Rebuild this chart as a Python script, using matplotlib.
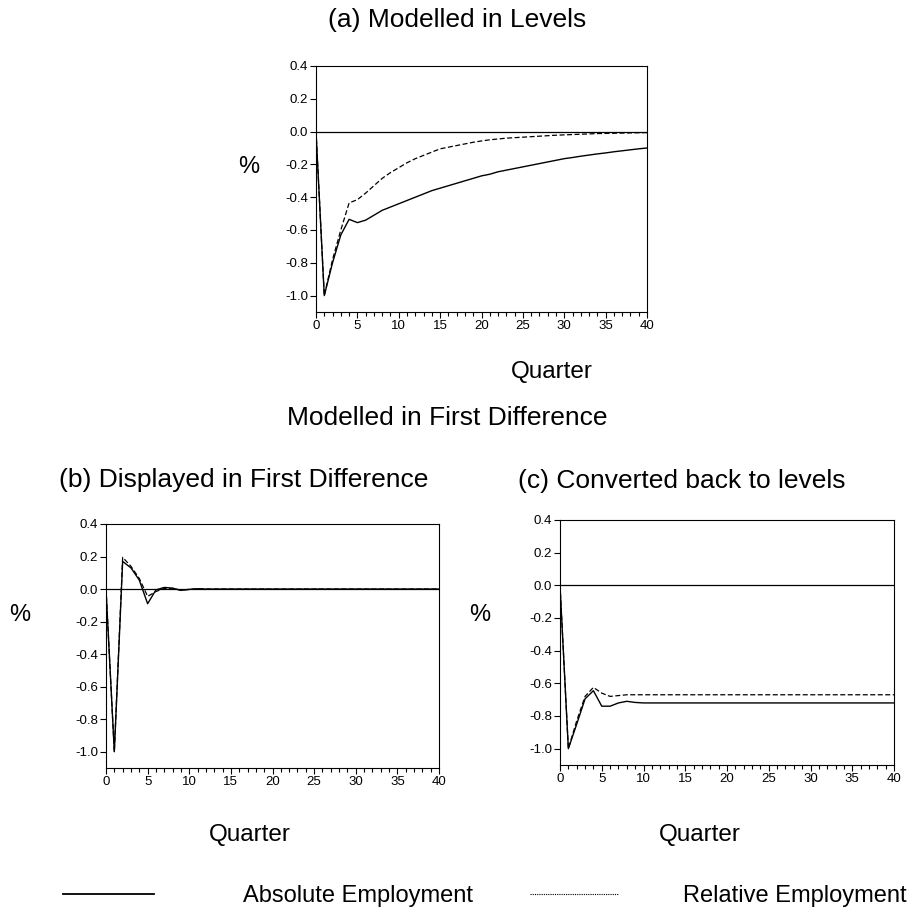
import numpy as np
import matplotlib
matplotlib.use("Agg")
import matplotlib.pyplot as plt
from matplotlib.lines import Line2D
from matplotlib.ticker import MultipleLocator, FormatStrFormatter

plt.rcParams['font.family'] = ['Liberation Sans', 'DejaVu Sans']
plt.rcParams['axes.unicode_minus'] = False

# quarters 0..40
quarters = np.arange(41)

# (a) modelled in levels
abs_levels = [0, -1.0, -0.80, -0.63, -0.535, -0.555, -0.54, -0.51, -0.48, -0.46,
              -0.44, -0.42, -0.40, -0.38, -0.36, -0.345, -0.33, -0.315, -0.30, -0.285,
              -0.27, -0.26, -0.245, -0.235, -0.225, -0.215, -0.205, -0.195, -0.185, -0.175,
              -0.165, -0.158, -0.15, -0.143, -0.136, -0.13, -0.123, -0.117, -0.111, -0.105,
              -0.10]
rel_levels = [0, -1.0, -0.78, -0.60, -0.435, -0.415, -0.375, -0.33, -0.285, -0.25,
              -0.22, -0.19, -0.165, -0.145, -0.125, -0.105, -0.095, -0.085, -0.075, -0.065,
              -0.057, -0.05, -0.045, -0.04, -0.037, -0.034, -0.031, -0.028, -0.025, -0.022,
              -0.02, -0.018, -0.016, -0.014, -0.012, -0.011, -0.01, -0.009, -0.008, -0.007,
              -0.006]

# (b) modelled in first difference, displayed in first difference
abs_diff = [0, -1.0, 0.17, 0.13, 0.055, -0.09, -0.005, 0.01, 0.006, -0.008,
            -0.002, 0.002] + [0.0] * 29
rel_diff = [0, -1.0, 0.195, 0.14, 0.065, -0.045, -0.015, 0.004, 0.002, -0.006,
            -0.002, 0.001] + [0.0] * 29

# (c) modelled in first difference, converted back to levels
abs_conv = [0, -1.0, -0.85, -0.695, -0.645, -0.74, -0.74, -0.72, -0.71, -0.717,
            -0.72] + [-0.72] * 30
rel_conv = [0, -1.0, -0.83, -0.68, -0.625, -0.66, -0.68, -0.675, -0.67, -0.67,
            -0.67] + [-0.67] * 30

W, H = 914, 913
fig = plt.figure(figsize=(W / 100, H / 100), dpi=100)


def rect(l, t, r, b):
    return [l / W, 1 - b / H, (r - l) / W, (b - t) / H]


def panel(pos, solid, dashed):
    ax = fig.add_axes(rect(*pos))
    ax.plot(quarters, solid, color='black', lw=1.0)
    ax.plot(quarters, dashed, color='black', lw=0.9, ls=(0, (4, 2)))
    ax.axhline(0, color='black', lw=0.9)
    ax.set_xlim(0, 40)
    ax.set_ylim(-1.1, 0.4)
    ax.xaxis.set_major_locator(MultipleLocator(5))
    ax.xaxis.set_minor_locator(MultipleLocator(1))
    ax.yaxis.set_major_locator(MultipleLocator(0.2))
    ax.yaxis.set_major_formatter(FormatStrFormatter('%.1f'))
    ax.tick_params(axis='both', which='major', direction='out', length=4, width=0.8,
                   labelsize=9.5, pad=1.5)
    ax.tick_params(axis='x', which='minor', direction='out', length=3, width=0.8)
    ax.tick_params(axis='x', which='major', length=4, pad=2)
    for s in ax.spines.values():
        s.set_linewidth(0.8)
    return ax


panel((316, 66, 647, 312), abs_levels, rel_levels)
panel((106, 524, 439, 768), abs_diff, rel_diff)
panel((560, 520, 894, 765), abs_conv, rel_conv)


def txt(x, y, s, size=19):
    fig.text(x / W, 1 - y / H, s, ha='center', va='center', fontsize=size)


txt(457, 20, "(a) Modelled in Levels")
txt(249, 167, "%", 17)
txt(552, 372, "Quarter", 17.5)
txt(447, 418, "Modelled in First Difference")
txt(244, 480, "(b) Displayed in First Difference")
txt(682, 481, "(c) Converted back to levels")
txt(20, 615, "%", 17)
txt(480, 615, "%", 17)
txt(250, 835, "Quarter", 17.5)
txt(700, 835, "Quarter", 17.5)

# legend, drawn as two separate entries to keep the wide spacing
fig.legend([Line2D([], [], color='black', lw=1.3)], ["Absolute Employment"],
           loc='center left', bbox_to_anchor=(63 / W, 1 - 896 / H),
           frameon=False, fontsize=17, borderpad=0, borderaxespad=0,
           handlelength=3.85, handletextpad=3.77)
fig.legend([Line2D([], [], color='black', lw=0.8, ls=(0, (1, 1)))], ["Relative Employment"],
           loc='center left', bbox_to_anchor=(530 / W, 1 - 896 / H),
           frameon=False, fontsize=17, borderpad=0, borderaxespad=0,
           handlelength=3.73, handletextpad=2.75)

fig.savefig("out.png", dpi=100)
